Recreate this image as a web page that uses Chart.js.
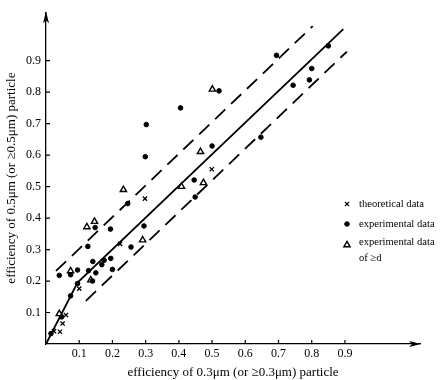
<!DOCTYPE html>
<html>
<head>
<meta charset="utf-8">
<script src="https://cdn.jsdelivr.net/npm/chart.js@4"></script>
<style>
  html, body { margin: 0; padding: 0; background: #fff; }
  #wrap { width: 440px; height: 380px; }
</style>
</head>
<body>
<div id="wrap"><canvas id="effChart" width="440" height="380"></canvas></div>
<script>
// theoretical data (x markers)
const theoX = [0.024, 0.042, 0.050, 0.060, 0.100, 0.223, 0.298, 0.499];
const theoY = [0.041, 0.039, 0.065, 0.092, 0.176, 0.318, 0.462, 0.555];

// experimental data (filled dots)
const expX = [0.015, 0.047, 0.040, 0.074, 0.074, 0.095, 0.095, 0.126, 0.128, 0.141, 0.150, 0.140, 0.148,
              0.168, 0.175, 0.195, 0.194, 0.200, 0.246, 0.256, 0.295, 0.299, 0.302, 0.405, 0.446, 0.449,
              0.500, 0.521, 0.647, 0.694, 0.744, 0.793, 0.800, 0.850];
const expY = [0.033, 0.086, 0.218, 0.220, 0.153, 0.192, 0.235, 0.310, 0.233, 0.262, 0.226, 0.200, 0.370,
              0.252, 0.266, 0.272, 0.365, 0.237, 0.446, 0.308, 0.375, 0.595, 0.697, 0.750, 0.521, 0.467,
              0.629, 0.804, 0.657, 0.917, 0.822, 0.839, 0.875, 0.947];

// experimental data of >=d (open triangles)
const geX = [0.040, 0.074, 0.123, 0.146, 0.135, 0.233, 0.291, 0.408, 0.465, 0.474, 0.501];
const geY = [0.096, 0.232, 0.372, 0.389, 0.203, 0.490, 0.330, 0.500, 0.611, 0.512, 0.809];

// fitted line and bounds
const fitX = [0, 0.095, 0.895];
const fitY = [0, 0.195, 1.0];
const upperX = [0.03, 0.803];
const upperY = [0.232, 1.01];
const lowerX = [0.12, 0.906];
const lowerY = [0.137, 0.929];

const xTicks = [0.1, 0.2, 0.3, 0.4, 0.5, 0.6, 0.7, 0.8, 0.9];
const yTicks = [0.1, 0.2, 0.3, 0.4, 0.5, 0.6, 0.7, 0.8, 0.9];

const xTitle = 'efficiency of 0.3\u03bcm (or \u22650.3\u03bcm) particle';
const yTitle = 'efficiency of 0.5\u03bcm (or \u22650.5\u03bcm) particle';
const legendLabels = [['theoretical data'], ['experimental data'], ['experimental data', 'of \u2265d']];

const serif = '"Liberation Serif", "DejaVu Serif", serif';

function pts(xs, ys) {
    return xs.map((x, i) => ({ x: x, y: ys[i] }));
}

// inside tick marks + arrow heads on the axes
const axisDeco = {
    id: 'axisDeco',
    afterDraw(chart) {
        const ctx = chart.ctx;
        const xs = chart.scales.x, ys = chart.scales.y;
        const x0 = xs.left, y0 = ys.bottom;
        ctx.save();
        ctx.strokeStyle = '#000';
        ctx.fillStyle = '#000';
        ctx.lineWidth = 1.2;
        ctx.beginPath();
        xTicks.forEach(v => {
            const px = xs.getPixelForValue(v);
            ctx.moveTo(px, y0);
            ctx.lineTo(px, y0 - 4);
        });
        yTicks.forEach(v => {
            const py = ys.getPixelForValue(v);
            ctx.moveTo(x0, py);
            ctx.lineTo(x0 + 4, py);
        });
        ctx.stroke();
        // arrow heads
        const top = ys.top, right = xs.right;
        ctx.beginPath();
        ctx.moveTo(x0, top - 1);
        ctx.lineTo(x0 - 3, top + 11);
        ctx.lineTo(x0, top + 8);
        ctx.lineTo(x0 + 3, top + 11);
        ctx.closePath();
        ctx.fill();
        ctx.beginPath();
        ctx.moveTo(right + 1, y0);
        ctx.lineTo(right - 11, y0 - 3);
        ctx.lineTo(right - 8, y0);
        ctx.lineTo(right - 11, y0 + 3);
        ctx.closePath();
        ctx.fill();
        ctx.restore();
    }
};

// legend drawn at the right, like the original figure
const sideLegend = {
    id: 'sideLegend',
    afterDraw(chart) {
        const ctx = chart.ctx;
        const rows = [204, 224, 242];
        const markers = [0, 1, 2];
        ctx.save();
        ctx.font = '10.6px ' + serif;
        ctx.textBaseline = 'middle';
        ctx.fillStyle = '#000';
        markers.forEach((di, i) => {
            const ds = chart.data.datasets[di];
            ctx.strokeStyle = '#000';
            ctx.fillStyle = ds.backgroundColor;
            ctx.lineWidth = ds.borderWidth;
            Chart.helpers.drawPoint(ctx, {
                pointStyle: ds.pointStyle,
                radius: ds.pointRadius,
                borderWidth: ds.borderWidth
            }, 347, i === 2 ? rows[i] + 3 : rows[i]);
            ctx.fillStyle = '#000';
            legendLabels[i].forEach((t, j) => {
                ctx.fillText(t, 359, rows[i] + j * 16);
            });
        });
        ctx.restore();
    }
};

const ctx = document.getElementById('effChart').getContext('2d');
new Chart(ctx, {
    type: 'scatter',
    data: {
        datasets: [
            {
                label: 'theoretical data',
                data: pts(theoX, theoY),
                pointStyle: 'crossRot',
                pointRadius: 3,
                borderColor: '#000',
                backgroundColor: '#000',
                borderWidth: 1.3
            },
            {
                label: 'experimental data',
                data: pts(expX, expY),
                pointStyle: 'circle',
                pointRadius: 2.3,
                borderColor: '#000',
                backgroundColor: '#000',
                borderWidth: 1
            },
            {
                label: 'experimental data of \u2265d',
                data: pts(geX, geY),
                pointStyle: 'triangle',
                pointRadius: 3.6,
                borderColor: '#000',
                backgroundColor: '#fff',
                borderWidth: 1.4
            },
            {
                label: 'fit',
                data: pts(fitX, fitY),
                showLine: true,
                pointRadius: 0,
                borderColor: '#000',
                borderWidth: 1.8
            },
            {
                label: 'upper',
                data: pts(upperX, upperY),
                showLine: true,
                pointRadius: 0,
                borderColor: '#000',
                borderWidth: 1.8,
                borderDash: [14, 8]
            },
            {
                label: 'lower',
                data: pts(lowerX, lowerY),
                showLine: true,
                pointRadius: 0,
                borderColor: '#000',
                borderWidth: 1.8,
                borderDash: [14, 8]
            }
        ]
    },
    options: {
        responsive: false,
        animation: false,
        layout: { padding: { top: 2, right: 20, left: 0, bottom: 0 } },
        plugins: {
            legend: { display: false },
            tooltip: { enabled: false }
        },
        scales: {
            x: {
                type: 'linear',
                min: 0,
                max: 1.126,
                afterFit: s => { s.height = 36; },
                afterBuildTicks: s => { s.ticks = xTicks.map(v => ({ value: v })); },
                grid: { display: true, drawOnChartArea: false, drawTicks: false },
                border: { display: true, color: '#000', width: 1.3 },
                ticks: {
                    color: '#000',
                    padding: 3,
                    maxRotation: 0,
                    font: { family: serif, size: 12 },
                    callback: v => v.toFixed(1)
                },
                title: {
                    display: true,
                    text: xTitle,
                    color: '#000',
                    padding: 0,
                    font: { family: serif, size: 13 }
                }
            },
            y: {
                type: 'linear',
                min: 0,
                max: 1.054,
                afterFit: s => { s.width = 46; },
                afterBuildTicks: s => { s.ticks = yTicks.map(v => ({ value: v })); },
                grid: { display: true, drawOnChartArea: false, drawTicks: false },
                border: { display: true, color: '#000', width: 1.3 },
                ticks: {
                    color: '#000',
                    padding: 5,
                    font: { family: serif, size: 12 },
                    callback: v => v.toFixed(1)
                },
                title: {
                    display: true,
                    text: yTitle,
                    color: '#000',
                    padding: { top: 4, bottom: 0 },
                    font: { family: serif, size: 13 }
                }
            }
        }
    },
    plugins: [axisDeco, sideLegend]
});
</script>
</body>
</html>
